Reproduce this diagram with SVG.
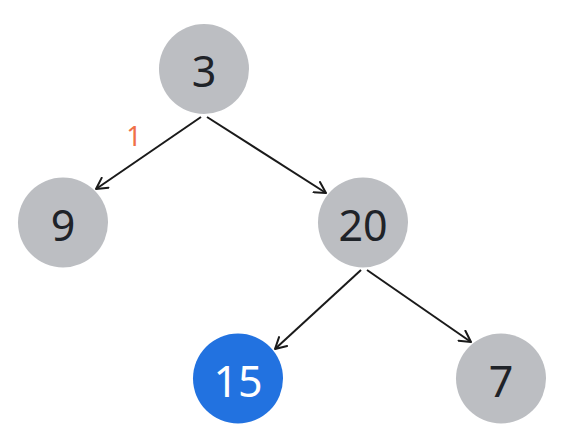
<svg xmlns="http://www.w3.org/2000/svg" width="563" height="444" viewBox="0 0 563 444">
<style>
.n{fill:#bcbec2}
.hl{fill:#2272e0}
.t{font-family:"Noto Sans","Open Sans",sans-serif;font-size:43px;fill:#1f2328;text-anchor:middle}
.tw{fill:#ffffff}
.e{stroke:#1a1a1a;stroke-width:2;fill:none;marker-end:url(#arr)}
.lbl{font-family:"Noto Sans","Open Sans",sans-serif;font-size:27px;fill:#f07048;text-anchor:middle}
</style>
<defs>
<marker id="arr" viewBox="0 0 14 14" refX="12" refY="7" markerWidth="14" markerHeight="14" markerUnits="userSpaceOnUse" orient="auto">
<path d="M1,1 L12,7 L1,13" fill="none" stroke="#1a1a1a" stroke-width="2" stroke-linecap="round" stroke-linejoin="round"/>
</marker>
</defs>
<rect width="563" height="444" fill="#ffffff"/>
<g id="connectors">
<line class="e" x1="201" y1="117" x2="96" y2="189"/>
<line class="e" x1="207" y1="117" x2="326" y2="193"/>
<line class="e" x1="361" y1="270" x2="275" y2="349"/>
<line class="e" x1="367" y1="270" x2="471" y2="342"/>
<text class="lbl" x="134" y="146">1</text>
</g>
<g id="node-3"><circle class="n" cx="204" cy="69" r="45"/><text class="t" x="204" y="87">3</text></g>
<g id="node-9"><circle class="n" cx="63" cy="222.5" r="45"/><text class="t" x="63" y="240.5">9</text></g>
<g id="node-20"><circle class="n" cx="363" cy="222.5" r="45"/><text class="t" x="363" y="240.5">20</text></g>
<g id="node-15"><circle class="hl" cx="238" cy="378.5" r="45"/><text class="t tw" x="238" y="396.5">15</text></g>
<g id="node-7"><circle class="n" cx="501" cy="378.5" r="45"/><text class="t" x="501" y="396.5">7</text></g>
</svg>
